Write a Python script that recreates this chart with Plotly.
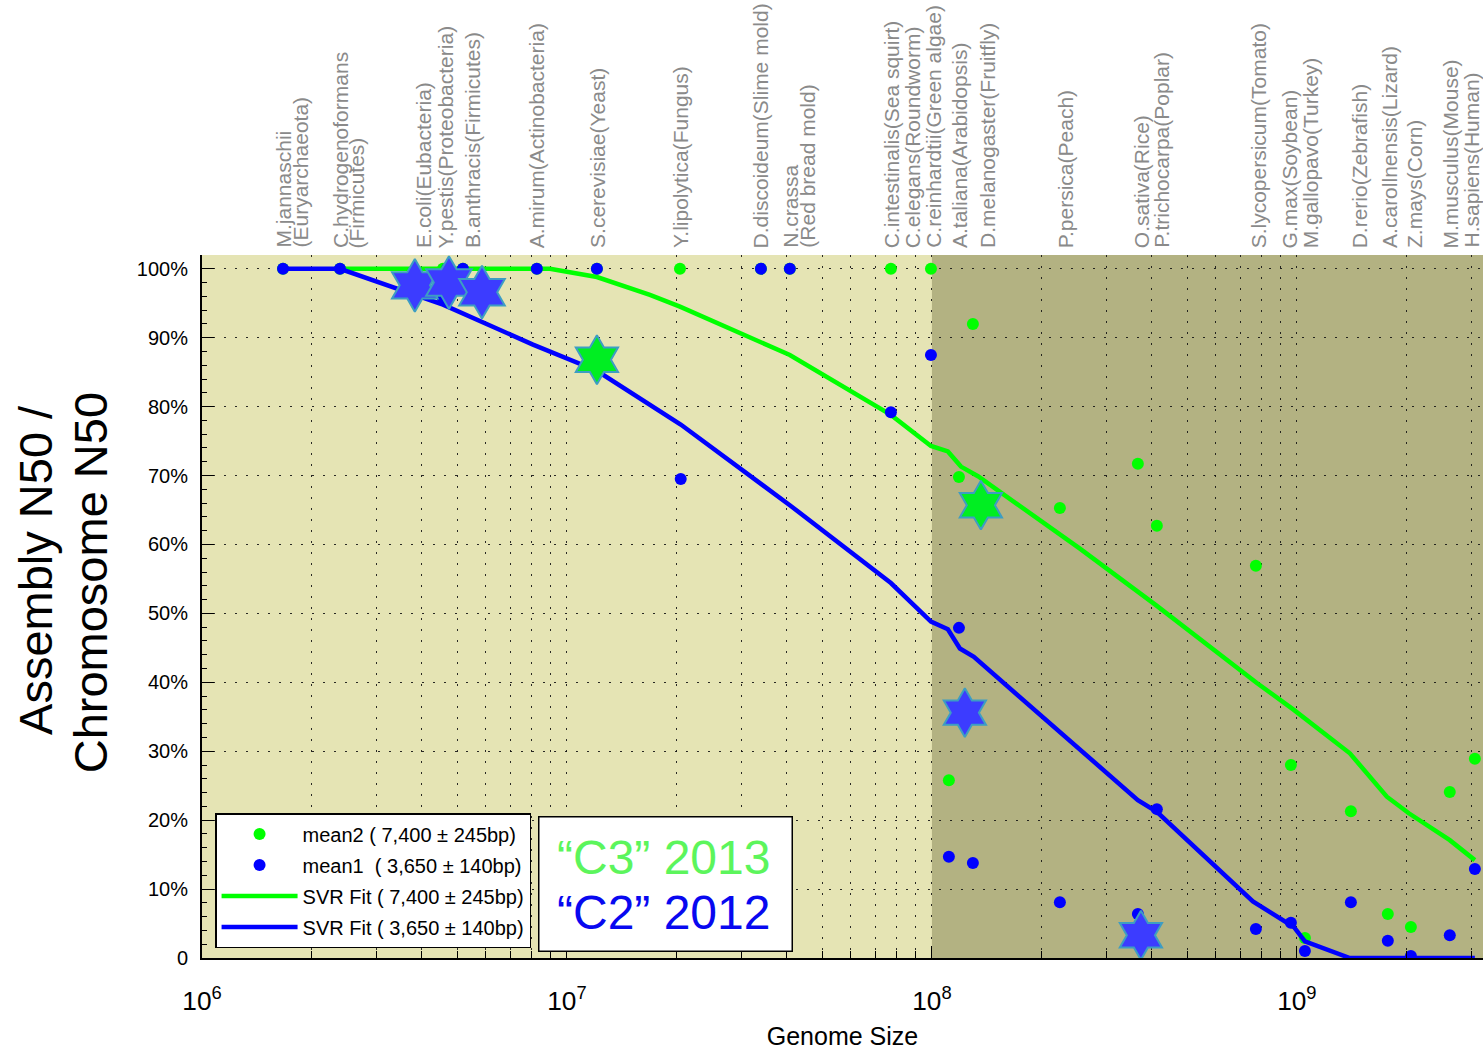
import numpy as np
import plotly.graph_objects as go

# ---------------- data ----------------
# species labels on top (first line, optional second line, genome size in Mb)
label_line1 = ["M.jannaschii", "C.hydrogenoformans", "E.coli(Eubacteria)", "Y.pestis(Proteobacteria)",
               "B.anthracis(Firmicutes)", "A.mirum(Actinobacteria)", "S.cerevisiae(Yeast)",
               "Y.lipolytica(Fungus)", "D.discoideum(Slime mold)", "N.crassa",
               "C.intestinalis(Sea squirt)", "C.elegans(Roundworm)", "C.reinhardtii(Green algae)",
               "A.taliana(Arabidopsis)", "D.melanogaster(Fruitfly)", "P.persica(Peach)",
               "O.sativa(Rice)", "P.trichocarpa(Poplar)", "S.lycopersicum(Tomato)", "G.max(Soybean)",
               "M.gallopavo(Turkey)", "D.rerio(Zebrafish)", "A.carollnensis(Lizard)", "Z.mays(Corn)",
               "M.musculus(Mouse)", "H.sapiens(Human)"]
label_line2 = ["(Euryarchaeota)", "(Firmicutes)", "", "", "", "", "", "", "", "(Red bread mold)",
               "", "", "", "", "", "", "", "", "", "", "", "", "", "", "", ""]
label_pos_mb = [1.667, 2.388, 4.03, 4.66, 5.49, 8.27, 12.08, 20.4, 34.0, 40.9, 77.4, 88.4, 100.9,
                119.0, 141.9, 232.0, 375.6, 423.6, 786.6, 957.0, 1092.0, 1488.0, 1787.0, 2094.0,
                2644.0, 3000.0]

# mean2 (C3 2013) points: genome size (Mb), assembly/chromosome N50 (%)
green_mb = [1.667, 2.388, 4.574, 5.188, 8.27, 12.08, 20.4, 34.0, 40.8, 77.2, 99.4, 111.3, 118.6,
            129.5, 224.2, 366.7, 413.4, 772.0, 963.0, 1052.0, 1406.0, 1775.0, 2053.0, 2624.0, 3074.0]
green_pct = [100, 100, 100, 100, 100, 100, 100, 100, 100, 100, 100, 25.8, 69.8,
             92.0, 65.3, 71.7, 62.7, 56.9, 28.0, 2.9, 21.3, 6.4, 4.5, 24.1, 28.9]

# mean1 (C2 2012) points
blue_mb = [1.667, 2.388, 4.574, 4.70, 5.188, 8.27, 12.08, 20.5, 34.0, 40.8, 77.2, 99.4, 111.3,
           118.6, 129.5, 224.2, 366.7, 413.4, 772.0, 963.0, 1052.0, 1406.0, 1775.0, 2053.0,
           2624.0, 3074.0]
blue_pct = [100, 100, 95.6, 100, 100, 100, 100, 69.5, 100, 100, 79.2, 87.5, 14.7,
            47.9, 13.8, 8.1, 6.4, 21.6, 4.2, 5.1, 1.0, 8.1, 2.5, 0.3, 3.3, 12.9]

# SVR fits
green_fit_mb = [2.388, 8.98, 12.08, 16.88, 20.4, 40.8, 77.2, 99.4, 110.6, 120.1, 133.7, 254.4,
                410.9, 777.0, 981.0, 1397.0, 1764.0, 2027.0, 2624.0, 3074.0]
green_fit_pct = [100, 100, 98.8, 96.2, 94.5, 87.5, 78.8, 74.3, 73.5, 71.3, 69.9, 59.4,
                 51.2, 39.9, 36.0, 29.7, 23.4, 21.0, 17.1, 14.2]
blue_fit_mb = [1.667, 2.388, 4.574, 8.07, 12.08, 20.5, 40.8, 77.2, 99.4, 110.6, 119.3,
               130.3, 366.7, 413.4, 757.8, 981.0, 1052.0, 1397.0, 3074.0]
blue_fit_pct = [100, 100, 94.8, 89.0, 85.2, 77.4, 65.7, 54.4, 48.8, 47.7, 44.9,
                43.7, 22.9, 21.2, 8.2, 4.5, 2.4, 0, 0]

# highlighted genomes (stars)
blue_star_mb = [3.83, 4.75, 5.85, 123.1, 373.8]
blue_star_pct = [97.6, 98.0, 96.6, 35.6, 3.3]
blue_star_size = [40, 40, 40, 37, 37]
green_star_mb = [12.08, 136.2]
green_star_pct = [86.8, 65.7]

y_ticks = [0, 10, 20, 30, 40, 50, 60, 70, 80, 90, 100]
y_ticktext = ["0", "10%", "20%", "30%", "40%", "50%", "60%", "70%", "80%", "90%", "100%"]

legend_names = ["mean2 ( 7,400 \u00b1 245bp)", "mean1  ( 3,650 \u00b1 140bp)",
                "SVR Fit ( 7,400 \u00b1 245bp)", "SVR Fit ( 3,650 \u00b1 140bp)"]
box_lines = ["\u201cC3\u201d 2013", "\u201cC2\u201d 2012"]

DARK_FROM_BP = 1e8
X_RANGE_LOG = [6.0, 9.51]
Y_RANGE = [0, 102.0]

GREEN = "#00ff00"
BLUE = "#0000ff"
FONT = "Liberation Sans, Arial, Helvetica, sans-serif"


def bp(mb):
    return np.array(mb, dtype=float) * 1e6


fig = go.Figure()

fig.add_trace(go.Scatter(x=bp(green_mb), y=green_pct, mode="markers", name=legend_names[0],
                         marker=dict(color=GREEN, size=12, opacity=1), legendrank=1, legendgroup="g1"))
fig.add_trace(go.Scatter(x=bp(green_fit_mb), y=green_fit_pct, mode="lines", name=legend_names[2],
                         line=dict(color=GREEN, width=4.5), legendrank=3, legendgroup="g3"))
fig.add_trace(go.Scatter(x=bp(blue_mb), y=blue_pct, mode="markers", name=legend_names[1],
                         marker=dict(color=BLUE, size=12, opacity=1), legendrank=2, legendgroup="g2"))
fig.add_trace(go.Scatter(x=bp(blue_fit_mb), y=blue_fit_pct, mode="lines", name=legend_names[3],
                         line=dict(color=BLUE, width=4.5), legendrank=4, legendgroup="g4"))
fig.add_trace(go.Scatter(x=bp(blue_star_mb), y=blue_star_pct, mode="markers", showlegend=False,
                         marker=dict(symbol="hexagram", size=blue_star_size, color="#3c3cff",
                                     opacity=1, line=dict(color="#3d9dc3", width=2))))
fig.add_trace(go.Scatter(x=bp(green_star_mb), y=green_star_pct, mode="markers", showlegend=False,
                         marker=dict(symbol="hexagram", size=37, color="#00ee22", opacity=1,
                                     line=dict(color="#3d9dc3", width=2))))

# darker background region for genomes >= 100 Mb (domain fraction of the log axis)
dark_frac = (np.log10(DARK_FROM_BP) - X_RANGE_LOG[0]) / (X_RANGE_LOG[1] - X_RANGE_LOG[0])
fig.add_shape(type="rect", xref="x domain", yref="y domain", x0=dark_frac, x1=1,
              y0=0, y1=1, fillcolor="#b3b282", line=dict(width=0), layer="below")

# species labels along the top
for name, sub, pos in zip(label_line1, label_line2, label_pos_mb):
    xl = np.log10(pos * 1e6)
    fig.add_annotation(x=xl, y=1, xref="x", yref="paper", text=name, showarrow=False,
                       textangle=-90, xanchor="center", yanchor="bottom", yshift=5,
                       font=dict(family=FONT, size=21, color="#8a8a8a"))
    if sub:
        fig.add_annotation(x=xl, y=1, xref="x", yref="paper", text=sub, showarrow=False,
                           textangle=-90, xanchor="center", yanchor="bottom", yshift=5, xshift=17,
                           font=dict(family=FONT, size=21, color="#8a8a8a"))

# y axis title (two lines)
fig.add_annotation(x=0, y=0.552, xref="paper", yref="paper", text="Assembly N50 /", showarrow=False,
                   textangle=-90, xanchor="center", yanchor="middle", xshift=-166,
                   font=dict(family=FONT, size=47, color="black"))
fig.add_annotation(x=0, y=0.533, xref="paper", yref="paper", text="Chromosome N50", showarrow=False,
                   textangle=-90, xanchor="center", yanchor="middle", xshift=-112,
                   font=dict(family=FONT, size=47, color="black"))

# C3 / C2 box
fig.add_annotation(x=0.3615, y=0.1046, xref="paper", yref="paper", showarrow=False, text=" ",
                   xanchor="center", yanchor="middle", width=250, height=131,
                   bgcolor="white", bordercolor="black", borderwidth=1.5, borderpad=1,
                   font=dict(family=FONT, size=10))
fig.add_annotation(x=0.3603, y=0.1425, xref="paper", yref="paper", showarrow=False, text=box_lines[0],
                   xanchor="center", yanchor="middle", font=dict(family=FONT, size=48, color="#5cf55c"))
fig.add_annotation(x=0.3603, y=0.0645, xref="paper", yref="paper", showarrow=False, text=box_lines[1],
                   xanchor="center", yanchor="middle", font=dict(family=FONT, size=48, color="#0808f0"))

grid_common = dict(gridcolor="rgba(20,20,20,0.9)", gridwidth=1.3, griddash="2px,9px")

fig.update_xaxes(type="log", range=X_RANGE_LOG, dtick=1, exponentformat="power",
                 ticks="inside", ticklen=12, tickwidth=1.3, tickcolor="black",
                 showline=True, linewidth=2, linecolor="black", showgrid=True, **grid_common,
                 minor=dict(dtick="D1", ticks="inside", ticklen=7, tickwidth=1.2, tickcolor="black",
                            showgrid=True, **grid_common),
                 tickfont=dict(family=FONT, size=21, color="black"), ticklabelstandoff=20,
                 title=dict(text="Genome Size", font=dict(family=FONT, size=25, color="black"),
                            standoff=12),
                 zeroline=False)
fig.update_yaxes(range=Y_RANGE, tickvals=y_ticks, ticktext=y_ticktext,
                 ticks="inside", ticklen=12, tickwidth=1.3, tickcolor="black",
                 showline=True, linewidth=2, linecolor="black", showgrid=True, **grid_common,
                 minor=dict(dtick=2, ticks="inside", ticklen=5, tickwidth=1, tickcolor="black",
                            showgrid=False),
                 tickfont=dict(family=FONT, size=20, color="black"), ticklabelstandoff=8,
                 zeroline=False)

fig.update_layout(
    width=1483, height=1052,
    margin=dict(l=202, r=0, t=255, b=94),
    paper_bgcolor="white", plot_bgcolor="#e5e4b4",
    font=dict(family=FONT, color="black"),
    showlegend=True,
    legend=dict(x=0.0102, y=0.0142, xanchor="left", yanchor="bottom",
                bgcolor="white", bordercolor="black", borderwidth=1.5,
                font=dict(family=FONT, size=20, color="black"),
                itemwidth=76, tracegroupgap=2, traceorder="grouped"),
)

fig.write_html("out.html", config={"displayModeBar": False},
               post_script="document.body.style.margin='0px';document.body.style.padding='0px';")
